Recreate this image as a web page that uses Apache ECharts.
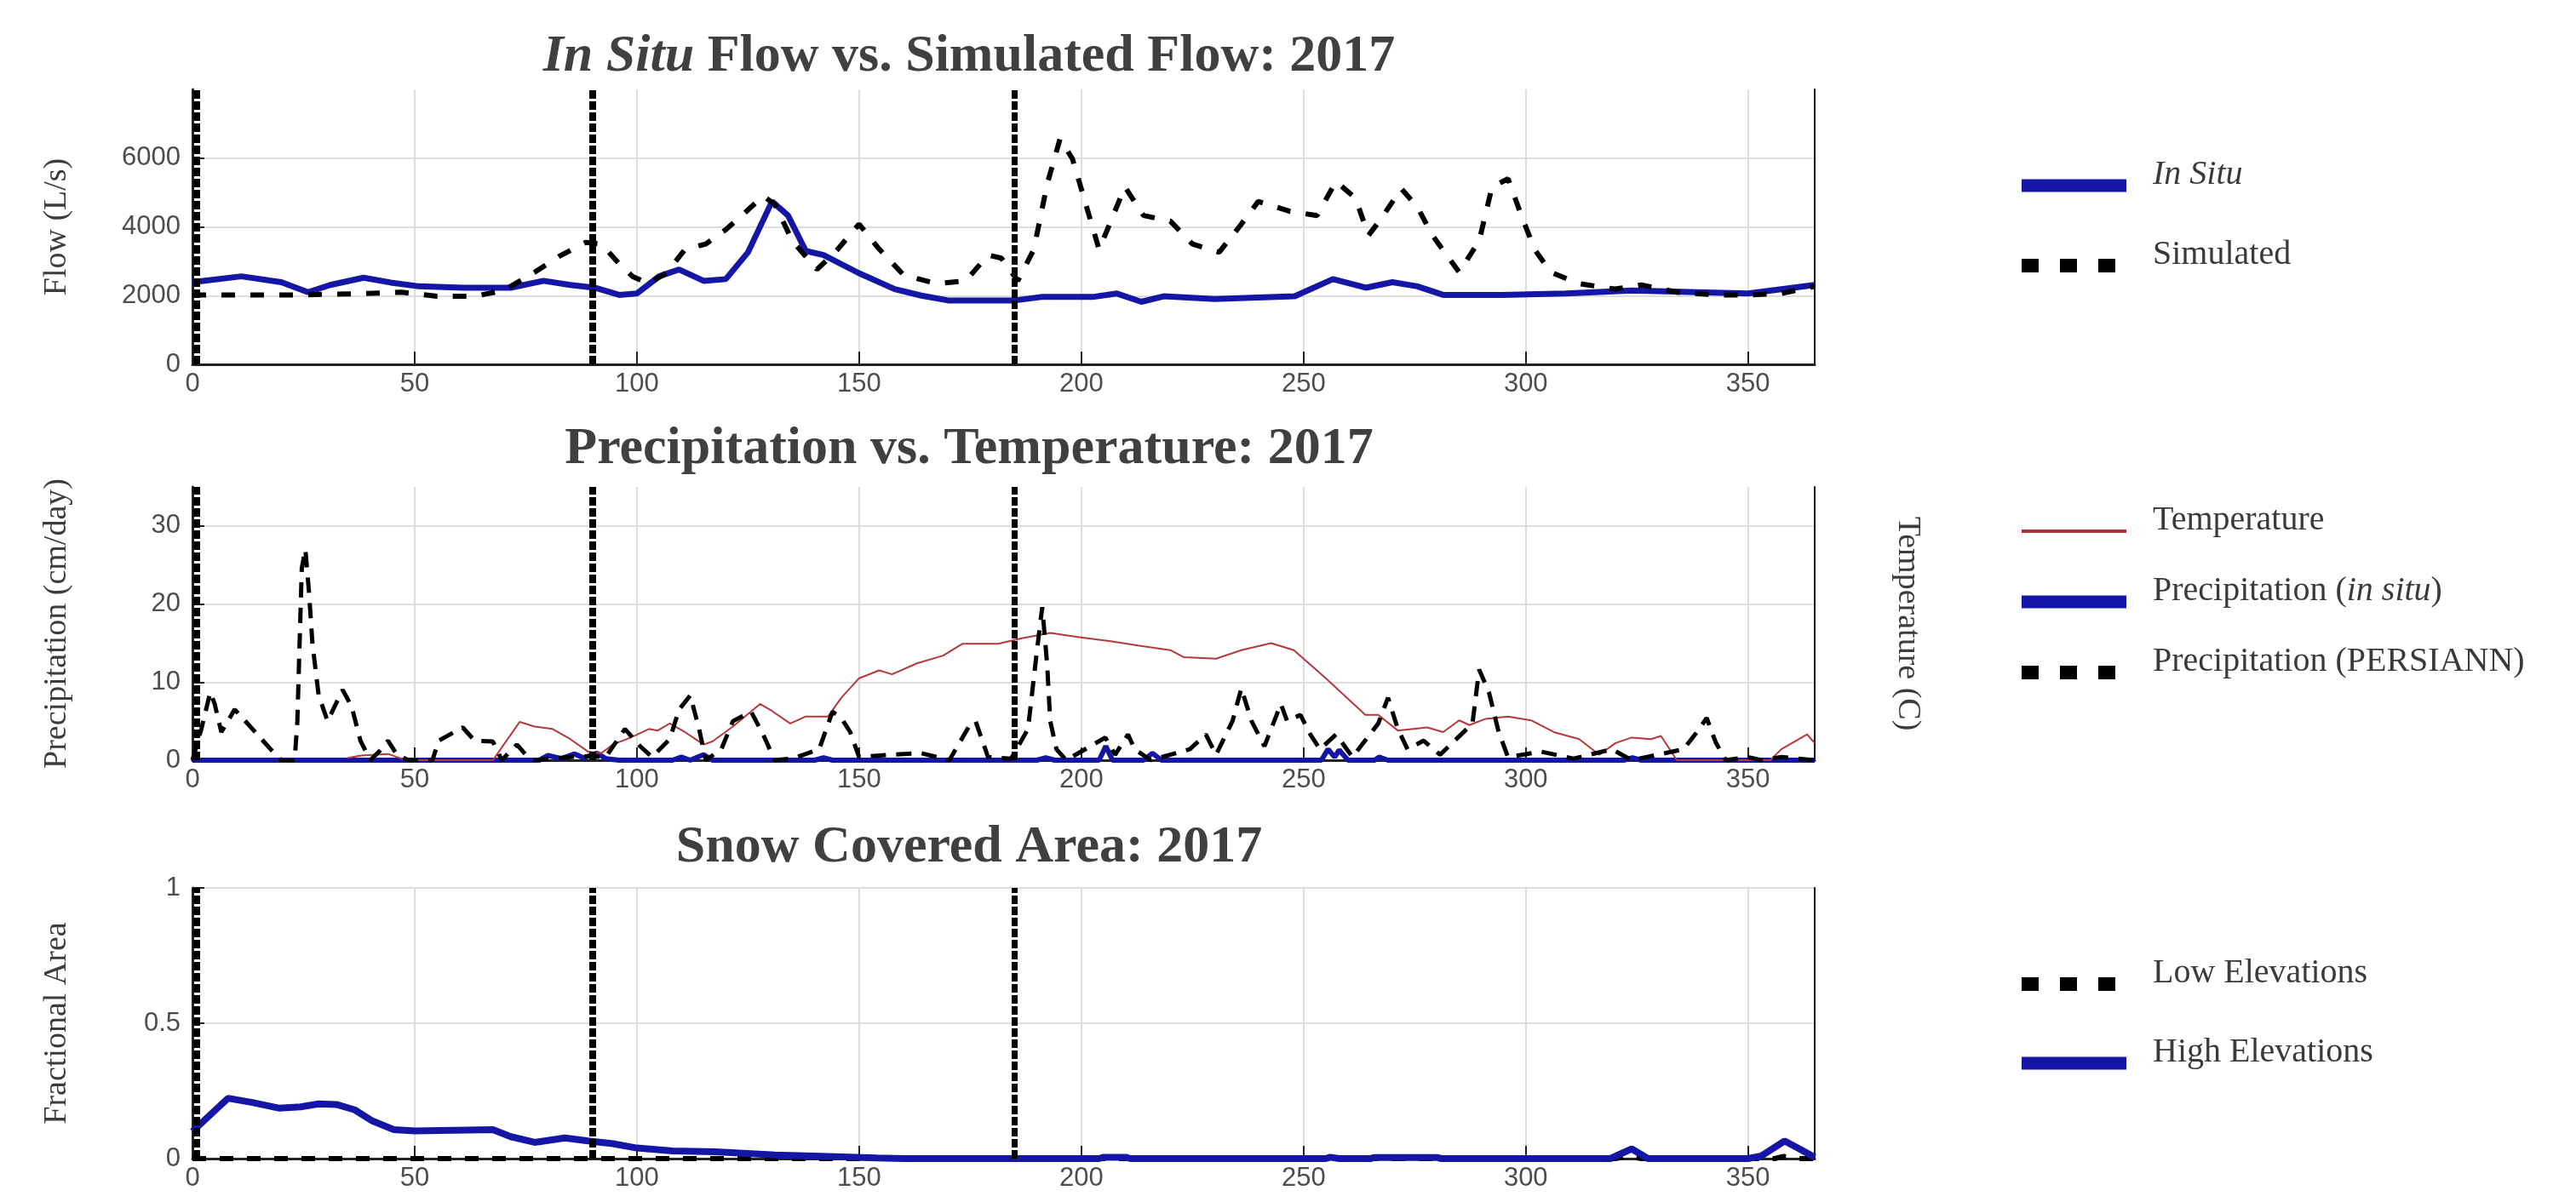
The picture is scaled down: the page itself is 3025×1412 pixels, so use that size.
<!DOCTYPE html>
<html lang="en">
  <head>
    <meta charset="utf-8" />
    <title>In Situ Flow vs. Simulated Flow: 2017</title>
    <script
      type="text/javascript"
      src="https://cdn.jsdelivr.net/npm/echarts@6/dist/echarts.min.js"
    ></script>
    <style type="text/css">
      * {
        margin: 0;
        padding: 0;
      }
      html,
      body {
        width: 100%;
        height: 100%;
        overflow: hidden;
        background: #fff;
      }
      #chart {
        width: 3025px;
        height: 1412px;
      }
    </style>
  </head>
  <body>
    <div id="chart"></div>
    <script type="text/javascript">
      // [day of year, value] pairs
      var flowInSitu = [
        [0, 2390], [11, 2560], [20, 2390], [26, 2100], [31, 2310], [38.5, 2520],
        [44.6, 2380], [51, 2270], [61, 2230], [71.6, 2230], [79, 2430], [85, 2310],
        [90.5, 2230], [96, 2020], [100, 2060], [105, 2560], [109.5, 2760], [115, 2430],
        [120, 2480], [125, 3260], [130.4, 4740], [134, 4330], [138, 3300], [142, 3180],
        [150, 2650], [158, 2190], [164, 2000], [170, 1860], [185, 1860], [191, 1960],
        [202.5, 1960], [208, 2060], [213.5, 1820], [218.5, 1980], [230, 1900], [248, 1980],
        [256.6, 2480], [264, 2230], [270, 2390], [275.6, 2270], [281.4, 2020], [294.6, 2020],
        [309, 2060], [324, 2150], [338.5, 2100], [350, 2060], [365, 2310]
      ];
      var flowSimulated = [
        [0, 2020], [23, 2020], [39, 2060], [47, 2100], [55, 1980], [63.5, 1980],
        [70, 2150], [77, 2680], [82.4, 3135], [88.5, 3550], [92, 3500], [96, 2930],
        [99, 2560], [102.7, 2350], [106.8, 2680], [110.8, 3340], [115.5, 3500], [120, 3920],
        [124.3, 4410], [128.4, 4900], [131, 4660], [135, 3590], [140.5, 2760], [144.6, 3260],
        [150, 4080], [154.2, 3400], [160, 2600], [167.4, 2350], [174, 2430], [179, 3180],
        [182, 3090], [185.7, 2430], [189.3, 3340], [192.3, 5240], [195.2, 6560], [198, 5980],
        [201, 4660], [204, 3340], [209.8, 5160], [214, 4330], [220, 4170], [225, 3500],
        [231, 3260], [236, 4080], [239.8, 4740], [247, 4450], [253, 4330], [257.3, 5320],
        [261.7, 4830], [264.6, 3750], [267.5, 4250], [272, 5110], [275.6, 4580], [279, 3750],
        [285, 2680], [289.5, 3590], [292.4, 5160], [296, 5400], [299, 4330], [302, 3340],
        [305.6, 2680], [312, 2350], [320, 2190], [326, 2310], [334, 2100], [342.8, 2020],
        [350, 2020], [357.5, 2060], [365, 2270]
      ];
      var precipPersiann = [
        [0, 0], [2, 4], [4, 8.7], [5, 7.2], [6.5, 3.6], [9.5, 6.5], [13.5, 4], [17.6, 1.4],
        [20, 0], [23, 0], [23.6, 5], [24.6, 24.6], [25.4, 27], [26.2, 21.7], [27, 14.9],
        [28.4, 8.3], [30.4, 5], [33.8, 9], [35.8, 6.9], [37.8, 2.5], [40, 0], [42, 1.1],
        [44, 2.5], [46, 0.7], [48.6, 0], [54, 0], [55.4, 2.5], [60.8, 4.2], [63.5, 2.5],
        [67.6, 2.4], [69.6, 0], [73, 2], [75, 0.7], [77, 0], [87, 0.5], [93, 0.4],
        [97.3, 4], [100.7, 1.8], [103.4, 0.4], [107.4, 2.7], [109.5, 6.5], [112, 8.3],
        [114, 4], [115.5, 0], [119, 1.4], [121.6, 5], [125.7, 6.2], [128.4, 3.3], [131, 0],
        [135, 0.2], [141, 1.4], [144, 6.2], [146, 5.4], [148, 3.6], [150, 0.4], [156.8, 0.7],
        [164, 0.9], [170.3, 0], [174.7, 4.3], [176.2, 5], [178.4, 1.4], [179, 0.4],
        [184.2, 0.2], [188, 4], [190, 14], [191.2, 19.6], [192.3, 12.3], [193, 5],
        [194.4, 1.4], [196.6, 0], [205.4, 2.9], [207.6, 0.7], [210.5, 3.3], [212, 1.4],
        [215.6, 0], [224.4, 1.4], [228, 3.3], [230.3, 0.7], [234, 5], [236, 9.2], [238.3, 5],
        [241.2, 1.8], [244.9, 7.2], [246.3, 5], [249.3, 5.8], [251.5, 3.3], [253.7, 1.4],
        [257.3, 3.3], [261, 0.4], [266.8, 4.7], [269, 8], [271.2, 4], [273.4, 1.4],
        [277, 2.5], [280.7, 0.7], [288, 4.7], [289.5, 11.6], [291.7, 8.7], [293.9, 3.6],
        [296, 0.4], [303.4, 1.1], [310.7, 0.2], [319.4, 1.4], [323.8, 0], [335.5, 1.4],
        [338.5, 3.6], [340.7, 5.4], [342.8, 2.2], [345, 0], [350, 0.4], [353, 0],
        [357.5, 0.4], [365, 0]
      ];
      var precipInSitu = [
        [0, 0], [78, 0], [80, 0.6], [83, 0.2], [86, 0.8], [88, 0.3], [91, 0.9], [93, 0.2],
        [96, 0], [108, 0], [110, 0.4], [112, 0], [115, 0.7], [117, 0], [140, 0], [142, 0.3],
        [144, 0], [190, 0], [192, 0.3], [194, 0], [204, 0], [205.5, 1.8], [207, 0],
        [214, 0], [216, 0.9], [218, 0], [254, 0], [255.5, 1.4], [257, 0.4], [258, 1.3],
        [260, 0], [266, 0], [267, 0.4], [269, 0], [322, 0], [324, 0.3], [326, 0], [365, 0]
      ];
      var temperature = [
        [35, 0.3], [38, 0.6], [44, 0.8], [47, 0.2], [49, 0], [67.6, 0], [73.6, 4.9],
        [77, 4.3], [81, 4], [85, 2.7], [89, 1.1], [92, 0.9], [94.6, 2], [98.6, 2.9],
        [102.7, 4], [104.7, 3.8], [107.4, 4.7], [110.8, 3.6], [115, 2], [117, 2.4],
        [121.6, 4.3], [127.7, 7.2], [130.4, 6.3], [134.5, 4.7], [138, 5.6], [143, 5.6],
        [146, 8], [150, 10.5], [154.5, 11.5], [157.4, 11], [163, 12.4], [168.9, 13.4],
        [173.2, 14.9], [181.3, 14.9], [186.4, 15.6], [193, 16.3], [198.8, 15.8],
        [206.9, 15.2], [212.7, 14.7], [220, 14.1], [223, 13.2], [230.3, 13], [236, 14.1],
        [242.7, 15], [247.8, 14.1], [255, 10.5], [263.9, 5.8], [266.8, 5.8], [271.2, 3.8],
        [277.8, 4.2], [281.4, 3.6], [285, 5.1], [287.3, 4.5], [291, 5.3], [296, 5.6],
        [301.2, 5.1], [306.3, 3.6], [312, 2.7], [316.5, 0.7], [320.2, 2.2], [323.8, 2.9],
        [328.2, 2.7], [330.4, 3.1], [334, 0], [355, 0], [357.5, 1.4], [363.3, 3.3], [365, 2.2]
      ];
      var snowHigh = [
        [0, 0.1], [8, 0.223], [13.5, 0.207], [19.6, 0.186], [24.3, 0.191], [28.4, 0.202],
        [32.4, 0.2], [36.5, 0.18], [40.5, 0.139], [45.3, 0.107], [50, 0.102], [67.6, 0.107],
        [71.6, 0.081], [77, 0.06], [83.8, 0.076], [89, 0.065], [94.6, 0.055], [100, 0.039],
        [108, 0.028], [117.6, 0.025], [125.7, 0.018], [131, 0.013], [144.6, 0.007],
        [154, 0.002], [160, 0], [204, 0], [205, 0.005], [210, 0.005], [211, 0], [255, 0],
        [256, 0.005], [258, 0], [265, 0], [266, 0.004], [280, 0.004], [281, 0], [319, 0],
        [323.8, 0.036], [327.5, 0], [350, 0], [353, 0.01], [358.2, 0.065], [361.8, 0.034],
        [365, 0.005]
      ];
      var snowLow = [
        [0, 0], [320, 0], [323, 0.008], [326, 0], [356, 0], [358, 0.008], [361, 0], [365, 0]
      ];
      // season boundaries drawn as thick dashed verticals in every panel
      var seasonDays = [1, 90, 185];
      var seasonWidths = [8, 8, 7];

      var titles = [
        "{i|In Situ} Flow vs. Simulated Flow: 2017",
        "Precipitation vs. Temperature: 2017",
        "Snow Covered Area: 2017"
      ];

      var serif = "'Liberation Serif', 'Times New Roman', serif";
      var sans = "'Liberation Sans', Arial, sans-serif";
      var blue = "#1616a6";
      var tickColor = "#4d4d4d";

      var gridTops = [105, 572, 1043];
      var gridHeights = [323, 321, 318];
      var titleY = [67, 528, 996];

      function seasonLines() {
        return {
          silent: true,
          symbol: ["none", "none"],
          label: { show: false },
          animation: false,
          lineStyle: { color: "#000", type: [10, 3], width: 8 },
          data: seasonDays.map(function (d, i) {
            return { xAxis: d, lineStyle: { width: seasonWidths[i] } };
          })
        };
      }

      function plainNumber(v) {
        return String(v);
      }

      function xAxisFor(idx) {
        return {
          type: "value",
          gridIndex: idx,
          min: 0,
          max: 365,
          interval: 50,
          axisLine: { show: true, lineStyle: { color: "#222", width: 3 } },
          axisTick: { show: true, inside: true, length: 15, lineStyle: { color: "#222", width: 2 } },
          axisLabel: {
            showMaxLabel: false,
            margin: 8,
            formatter: plainNumber,
            fontFamily: sans,
            fontSize: 31,
            color: tickColor
          },
          splitLine: { show: true, showMaxLine: false, lineStyle: { color: "#dedede", width: 2 } }
        };
      }

      function leftAxis(idx, max, interval, name, hideMax) {
        return {
          type: "value",
          gridIndex: idx,
          min: 0,
          max: max,
          interval: interval,
          name: name,
          nameLocation: "middle",
          nameGap: 140,
          nameTextStyle: { fontFamily: serif, fontSize: 38, color: "#3c3c3c" },
          axisLine: { show: true, lineStyle: { color: "#222", width: 3 } },
          axisTick: { show: true, inside: true, length: 14, lineStyle: { color: "#222", width: 2 } },
          axisLabel: {
            showMaxLabel: !hideMax,
            margin: 14,
            formatter: plainNumber,
            fontFamily: sans,
            fontSize: 31,
            color: tickColor
          },
          splitLine: { show: true, showMaxLine: !hideMax, lineStyle: { color: "#dedede", width: 2 } }
        };
      }

      function rightAxis(idx, max, name) {
        return {
          type: "value",
          gridIndex: idx,
          position: "right",
          min: 0,
          max: max,
          name: name || "",
          nameLocation: "middle",
          nameRotate: -90,
          nameGap: 90,
          nameTextStyle: { fontFamily: serif, fontSize: 38, color: "#3c3c3c" },
          axisLine: { show: true, lineStyle: { color: "#111", width: 2 } },
          axisTick: { show: false },
          axisLabel: { show: false },
          splitLine: { show: false }
        };
      }

      function legendAt(top, gap, names) {
        return {
          orient: "vertical",
          left: 2366,
          top: top,
          padding: 0,
          itemGap: gap,
          itemWidth: 123,
          itemHeight: 16,
          selectedMode: false,
          data: names,
          itemStyle: { opacity: 0 },
          formatter: function (name) {
            if (name === "In Situ") return "{i|In Situ}";
            if (name === "Precipitation (in situ)") return "Precipitation ({i|in situ})";
            return name;
          },
          textStyle: {
            fontFamily: serif,
            fontSize: 40,
            lineHeight: 48,
            color: "#3a3a3a",
            padding: [0, 0, 26, 26],
            rich: {
              i: { fontFamily: serif, fontSize: 40, lineHeight: 48, fontStyle: "italic", color: "#3a3a3a" }
            }
          }
        };
      }

      var chart = echarts.init(document.getElementById("chart"), null, { renderer: "canvas" });

      chart.setOption({
        animation: false,
        backgroundColor: "#fff",
        grid: gridTops.map(function (t, i) {
          return { left: 226, width: 1905, top: t, height: gridHeights[i], outerBoundsMode: "none" };
        }),
        graphic: titles.map(function (t, i) {
          return {
            type: "text",
            x: 1138,
            y: titleY[i],
            silent: true,
            style: {
              text: t,
              align: "center",
              verticalAlign: "middle",
              fontFamily: serif,
              fontWeight: "bold",
              fontSize: 62,
              fill: "#404040",
              rich: {
                i: { fontFamily: serif, fontWeight: "bold", fontStyle: "italic", fontSize: 62, fill: "#404040" }
              }
            }
          };
        }),
        legend: [
          legendAt(181, 20, [
            { name: "In Situ", lineStyle: { width: 15, color: blue, type: "solid" } },
            { name: "Simulated", lineStyle: { width: 16, color: "#000", type: [20, 25] } }
          ]),
          legendAt(587, 9, [
            { name: "Temperature", lineStyle: { width: 4, color: "#a8343a", type: "solid" } },
            { name: "Precipitation (in situ)", lineStyle: { width: 15, color: blue, type: "solid" } },
            { name: "Precipitation (PERSIANN)", lineStyle: { width: 16, color: "#000", type: [20, 25] } }
          ]),
          legendAt(1119, 19, [
            { name: "Low Elevations", lineStyle: { width: 16, color: "#000", type: [20, 25] } },
            { name: "High Elevations", lineStyle: { width: 15, color: blue, type: "solid" } }
          ])
        ],
        xAxis: [xAxisFor(0), xAxisFor(1), xAxisFor(2)],
        yAxis: [
          leftAxis(0, 8000, 2000, "Flow (L/s)", true),
          rightAxis(0, 8000),
          leftAxis(1, 35, 10, "Precipitation (cm/day)", true),
          rightAxis(1, 35, "Temperature (C)"),
          leftAxis(2, 1, 0.5, "Fractional Area", false),
          rightAxis(2, 1)
        ],
        series: [
          {
            name: "In Situ",
            type: "line",
            xAxisIndex: 0,
            yAxisIndex: 0,
            symbol: "none",
            data: flowInSitu,
            color: blue,
            lineStyle: { color: blue, width: 7 }
          },
          {
            name: "Simulated",
            type: "line",
            xAxisIndex: 0,
            yAxisIndex: 0,
            symbol: "none",
            data: flowSimulated,
            color: "#000",
            lineStyle: { color: "#000", width: 6, type: [16, 18] },
            markLine: seasonLines()
          },
          {
            name: "Precipitation (in situ)",
            type: "line",
            xAxisIndex: 1,
            yAxisIndex: 2,
            symbol: "none",
            data: precipInSitu,
            color: blue,
            lineStyle: { color: blue, width: 6 }
          },
          {
            name: "Temperature",
            type: "line",
            xAxisIndex: 1,
            yAxisIndex: 3,
            symbol: "none",
            data: temperature,
            color: "#b5383c",
            lineStyle: { color: "#b5383c", width: 2 }
          },
          {
            name: "Precipitation (PERSIANN)",
            type: "line",
            xAxisIndex: 1,
            yAxisIndex: 2,
            symbol: "none",
            data: precipPersiann,
            color: "#000",
            lineStyle: { color: "#000", width: 5, type: [18, 12] },
            markLine: seasonLines()
          },
          {
            name: "Low Elevations",
            type: "line",
            xAxisIndex: 2,
            yAxisIndex: 4,
            symbol: "none",
            data: snowLow,
            color: "#000",
            lineStyle: { color: "#000", width: 6, type: [16, 16] }
          },
          {
            name: "High Elevations",
            type: "line",
            xAxisIndex: 2,
            yAxisIndex: 4,
            symbol: "none",
            data: snowHigh,
            color: blue,
            lineStyle: { color: blue, width: 8 },
            markLine: seasonLines()
          }
        ]
      });
    </script>
  </body>
</html>
